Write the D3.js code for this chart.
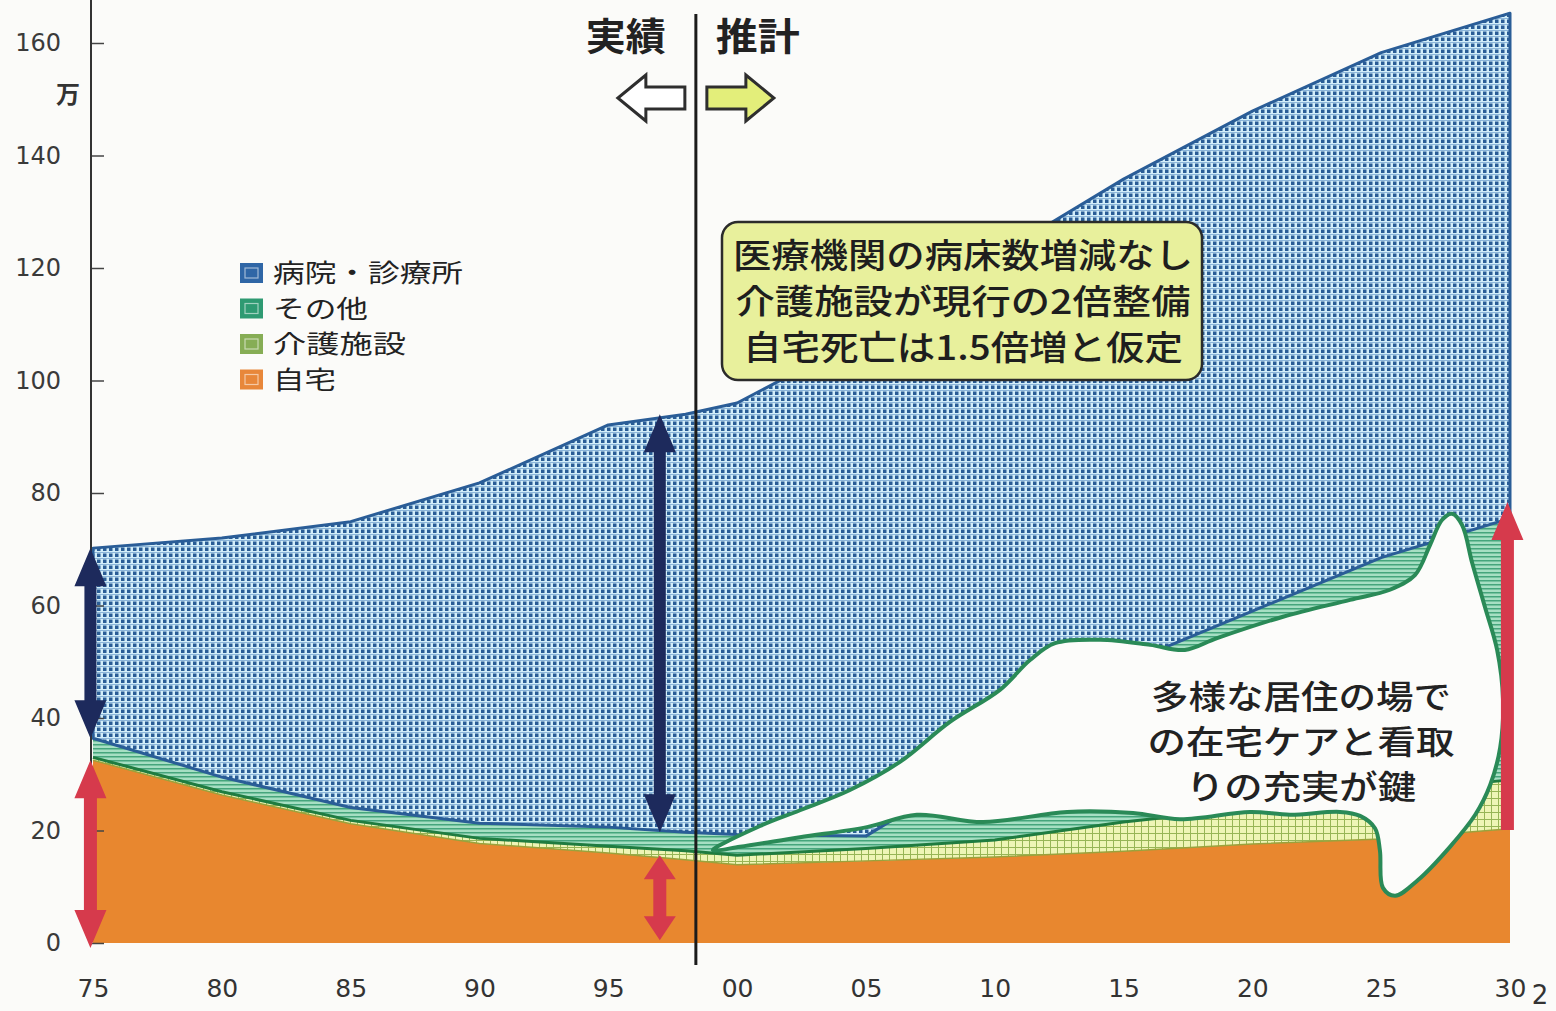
<!DOCTYPE html>
<html><head><meta charset="utf-8">
<script src="https://cdn.jsdelivr.net/npm/d3@7"></script>
<style>body{margin:0;background:#fbfbf9} svg{display:block}</style>
</head><body>
<svg id="c" width="1556" height="1011"></svg>
<script>
// ---------- data (万人) ----------
const years          = [1975, 1980, 1985, 1990, 1995, 1998, 2000, 2005, 2010, 2015, 2020, 2025, 2030];
const homeDeaths     = [32.5, 26.3, 21.2, 17.7, 16.0, 14.8, 13.9, 14.6, 15.3, 16.3, 17.6, 18.5, 20.3];
const careDeaths     = [0.5,  0.6,  0.6,  0.9,  1.2,  1.6,  1.7,  2.2,  3.0,  5.2,  6.4,  8.3,  8.7];
const otherDeaths    = [3.4,  2.6,  2.3,  2.7,  3.4,  3.3,  3.7,  2.2,  14.7, 28.0, 35.0, 41.7, 46.5];
const hospitalDeaths = [33.8, 42.5, 50.8, 60.5, 71.5, 74.3, 76.7, 89.0, 89.0, 86.3, 88.9, 89.8, 89.8];

const yTickValues = [0, 20, 40, 60, 80, 100, 120, 140, 160];
const xTickValues = [1975, 1980, 1985, 1990, 1995, 2000, 2005, 2010, 2015, 2020, 2025, 2030];
const seriesKeys   = ["home", "care", "other", "hospital"];
const legendKeys   = ["hospital", "other", "care", "home"];
const legendLabels = ["病院・診療所", "その他", "介護施設", "自宅"];
const dividerYear  = 1998.4;
const boxLines  = ["医療機関の病床数増減なし", "介護施設が現行の2倍整備", "自宅死亡は1.5倍増と仮定"];
const blobLines = ["多様な居住の場で", "の在宅ケアと看取", "りの充実が鍵"];
// callout outline as [year, value]
const blobOutline = [
 [1999.06,16.5],[2000.89,20.8],[2002.44,23.6],[2004.38,27.2],[2006.32,32.2],[2008.26,39.3],
 [2010.2,45.0],[2011.37,50.3],[2012.34,53.3],[2014.09,53.9],[2016.03,53.0],[2017.38,52.1],
 [2018.63,54.2],[2021.19,58.0],[2023.79,61.0],[2025.34,62.8],[2026.31,65.4],[2026.9,70.8],
 [2027.36,75.2],[2027.75,76.3],[2028.14,74.3],[2028.53,67.6],[2029.03,59.7],[2029.5,52.1],
 [2029.73,43.2],[2029.62,34.8],[2029.23,28.1],[2028.65,22.8],[2027.67,17.1],[2026.43,11.2],
 [2025.54,8.4],[2025.07,9.8],[2024.95,16.5],[2024.76,20.4],[2024.18,22.6],[2023.4,23.3],
 [2021.46,22.8],[2019.91,23.3],[2017.19,22.0],[2015.37,23.1],[2012.81,23.3],[2009.55,21.5],
 [2006.98,22.8],[2005.04,20.6],[2002.44,18.8],[2000.11,17.1]
];
// range arrows: year, low value, high value, kind
const rangeArrows = [
 {year:1974.9, lo:36.4, hi:70.2, kind:"navy"},
 {year:1997.0, lo:19.7, hi:94.0, kind:"navy"},
 {year:1974.9, lo:-0.9, hi:32.5, kind:"red"},
 {year:1997.0, lo:0.5,  hi:15.6, kind:"redShort"},
 {year:2029.9, lo:20.1, hi:78.4, kind:"redUp"}
];

// ---------- chart ----------
const svg = d3.select("#c");
const x = d3.scaleLinear().domain([1975, 2030]).range([93, 1510]);
const y = d3.scaleLinear().domain([0, 160]).range([943, 43]);
const JP = "'Noto Sans CJK JP','Noto Sans',sans-serif";

const defs = svg.append("defs");
// hospital: blue dot grid
const pH = defs.append("pattern").attr("id","pHosp").attr("patternUnits","userSpaceOnUse").attr("width",6).attr("height",6);
pH.append("rect").attr("width",6).attr("height",6).attr("fill","#d3eef9");
pH.append("rect").attr("x",0).attr("y",0).attr("width",6).attr("height",1).attr("fill","#8cb6da");
pH.append("rect").attr("x",1).attr("y",1.5).attr("width",3.5).attr("height",3.5).attr("fill","#2a5d96");
// other: green horizontal stripes
const pO = defs.append("pattern").attr("id","pOther").attr("patternUnits","userSpaceOnUse").attr("width",6).attr("height",4);
pO.append("rect").attr("width",6).attr("height",4).attr("fill","#a6dfc3");
pO.append("rect").attr("y",0).attr("width",6).attr("height",1.5).attr("fill","#45a57c");
// care: light yellow-green grid
const pC = defs.append("pattern").attr("id","pCare").attr("patternUnits","userSpaceOnUse").attr("width",7).attr("height",7);
pC.append("rect").attr("width",7).attr("height",7).attr("fill","#eef5b6");
pC.append("rect").attr("width",1).attr("height",7).attr("fill","#97b556");
pC.append("rect").attr("width",7).attr("height",1).attr("fill","#97b556");

const rows = years.map((yr,i)=>({year:yr, home:homeDeaths[i], care:careDeaths[i], other:otherDeaths[i], hospital:hospitalDeaths[i]}));
const stacked = d3.stack().keys(seriesKeys)(rows);
const area = d3.area().x(d=>x(d.data.year)).y0(d=>y(d[0])).y1(d=>y(d[1]));
const topLine = d3.line().x(d=>x(d.data.year)).y(d=>y(d[1]));
const fills = {home:"#e8872f", care:"url(#pCare)", other:"url(#pOther)", hospital:"url(#pHosp)"};

const gA = svg.append("g");
stacked.slice(0,3).forEach(s=>{
  gA.append("path").attr("d",area(s)).attr("fill",fills[s.key]);
});
gA.append("path").attr("d",topLine(stacked[0])).attr("fill","none").attr("stroke","#9aa23c").attr("stroke-width",1.5);
gA.append("path").attr("d",topLine(stacked[1])).attr("fill","none").attr("stroke","#1f7c40").attr("stroke-width",3);
gA.append("path").attr("d",area(stacked[3])).attr("fill",fills.hospital)
  .attr("stroke","#2a5d97").attr("stroke-width",3).attr("stroke-linejoin","round");

// callout blob
const blobLine = d3.line().x(d=>x(d[0])).y(d=>y(d[1])).curve(d3.curveCatmullRomClosed.alpha(0.5));
svg.append("path").attr("d",blobLine(blobOutline)).attr("fill","#fcfcfa")
  .attr("stroke","#2a8a57").attr("stroke-width",4).attr("stroke-linejoin","round");
blobLines.forEach((t,i)=>{
  svg.append("text").attr("x",1301).attr("y",709+i*45).attr("text-anchor","middle")
    .attr("font-family",JP).attr("font-size",33).attr("font-weight",500).attr("fill","#222")
    .attr("textLength",[300,307,230][i]).attr("lengthAdjust","spacingAndGlyphs").text(t);
});

// divider
const xd = x(dividerYear);
svg.append("line").attr("x1",xd).attr("x2",xd).attr("y1",14).attr("y2",y(0)+22)
  .attr("stroke","#1b1b1b").attr("stroke-width",3);

// assumption box
svg.append("rect").attr("x",722).attr("y",222).attr("width",480).attr("height",158).attr("rx",16)
  .attr("fill","#e8f09c").attr("stroke","#2b2b2b").attr("stroke-width",2.5);
boxLines.forEach((t,i)=>{
  svg.append("text").attr("x",963).attr("y",268+i*46).attr("text-anchor","middle")
    .attr("font-family",JP).attr("font-size",34).attr("font-weight",500).attr("fill","#1e1e1e")
    .attr("textLength",[460,455,440][i]).attr("lengthAdjust","spacingAndGlyphs").text(t);
});

// 実績 / 推計
svg.append("text").attr("x",xd-70).attr("y",50).attr("text-anchor","middle").attr("font-family",JP)
  .attr("font-size",38).attr("font-weight",700).attr("fill","#222").attr("textLength",80).attr("lengthAdjust","spacingAndGlyphs").text("実績");
svg.append("text").attr("x",xd+62).attr("y",50).attr("text-anchor","middle").attr("font-family",JP)
  .attr("font-size",38).attr("font-weight",700).attr("fill","#222").attr("textLength",84).attr("lengthAdjust","spacingAndGlyphs").text("推計");
function hArrow(xBase, xTip, yc, fill){
  const dir = Math.sign(xTip - xBase), hl = 28, sh = 11, hw = 23;
  const xh = xTip - dir*hl;
  const pts = [[xBase,yc-sh],[xh,yc-sh],[xh,yc-hw],[xTip,yc],[xh,yc+hw],[xh,yc+sh],[xBase,yc+sh]];
  svg.append("path").attr("d","M"+pts.map(p=>p.join(",")).join("L")+"Z").attr("fill",fill)
    .attr("stroke","#2e2e2e").attr("stroke-width",3).attr("stroke-linejoin","miter");
}
hArrow(xd-11, xd-78, 98, "#ffffff");
hArrow(xd+11, xd+78, 98, "#e3ee7a");

// axes
const gy = svg.append("g").attr("transform",`translate(91,0)`)
  .call(d3.axisLeft(y).tickValues(yTickValues).tickSize(-13).tickPadding(30).tickFormat(d3.format("d")));
gy.select(".domain").remove();
gy.selectAll(".tick line").attr("stroke","#444").attr("stroke-width",1.5);
gy.selectAll(".tick text").attr("font-family","'DejaVu Sans',sans-serif").attr("font-size",24).attr("fill","#3a3a3a");
svg.append("line").attr("x1",91).attr("x2",91).attr("y1",0).attr("y2",y(0)).attr("stroke","#333").attr("stroke-width",2);
svg.append("text").attr("x",80).attr("y",103).attr("text-anchor","end").attr("font-family",JP)
  .attr("font-size",24).attr("font-weight",700).attr("fill","#333").text("万");

const gx = svg.append("g").attr("transform",`translate(0,${y(0)})`)
  .call(d3.axisBottom(x).tickValues(xTickValues).tickSize(0).tickPadding(36).tickFormat(d=>String(d%100).padStart(2,"0")));
gx.select(".domain").remove();
gx.selectAll(".tick text").attr("font-family","'DejaVu Sans',sans-serif").attr("font-size",25).attr("fill","#333");
svg.append("text").attr("x",1540).attr("y",1004).attr("text-anchor","middle").attr("font-family","'DejaVu Sans',sans-serif")
  .attr("font-size",26).attr("fill","#333").text("2");

// legend
const legendSwatch = {hospital:"#2f66a6", other:"#2e9a72", care:"#86ad55", home:"#e8873a"};
legendKeys.forEach((k,i)=>{
  const cy = 273 + i*35.5;
  svg.append("rect").attr("x",240).attr("y",cy-10).attr("width",23).attr("height",20).attr("fill",legendSwatch[k]);
  svg.append("rect").attr("x",245).attr("y",cy-5).attr("width",13).attr("height",10).attr("fill","none")
    .attr("stroke","rgba(255,255,255,0.55)").attr("stroke-width",1.2);
  svg.append("text").attr("x",273).attr("y",cy+9).attr("font-family",JP).attr("font-size",25)
    .attr("fill","#222").attr("textLength",[190,95,133,63][i]).attr("lengthAdjust","spacingAndGlyphs").text(legendLabels[i]);
});

// range arrows
function vArrow(cx, yTop, yBot, kind){
  const red = kind !== "navy";
  const color = red ? "#d63a4c" : "#1d2a5c";
  const sh = red ? 6.5 : 6, hw = 16, hl = kind==="redShort" ? 24 : 38;
  const p = [];
  p.push([cx,yTop],[cx+hw,yTop+hl],[cx+sh,yTop+hl]);
  if (kind==="redUp"){ p.push([cx+sh,yBot],[cx-sh,yBot]); }
  else { p.push([cx+sh,yBot-hl],[cx+hw,yBot-hl],[cx,yBot],[cx-hw,yBot-hl],[cx-sh,yBot-hl]); }
  p.push([cx-sh,yTop+hl],[cx-hw,yTop+hl]);
  svg.append("path").attr("d","M"+p.map(q=>q.join(",")).join("L")+"Z").attr("fill",color);
}
rangeArrows.forEach(a=>vArrow(x(a.year), y(a.hi), y(a.lo), a.kind));
</script>
</body></html>
